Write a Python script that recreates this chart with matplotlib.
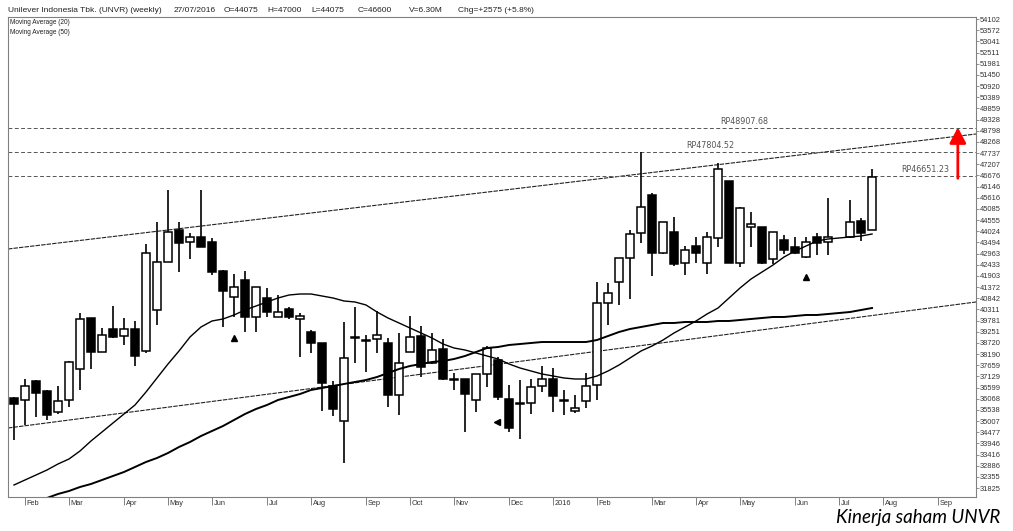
import numpy as np
import pandas as pd
import matplotlib
matplotlib.use('Agg')
import matplotlib.pyplot as plt
import matplotlib.transforms as mtransforms
from matplotlib.patches import Rectangle, FancyArrowPatch

# weekly candles, week start Monday (no candle for the Lebaran week 2016-07-04)
weeks = pd.date_range('2015-01-26', '2016-07-25', freq='W-MON')
weeks = weeks[weeks != pd.Timestamp('2016-07-04')]

opens = [36119, 36008, 36926, 36451, 35424, 36008, 37480, 39887, 38302, 39380,
         39062, 39380, 38350, 40282, 42576, 44082, 43526, 43764, 43512, 42134,
         40914, 41707, 39964, 40838, 39964, 40315, 39841, 39251, 38700, 36688,
         35026, 38985, 38810, 38891, 38700, 36246, 38302, 39062, 37750, 38430,
         36991, 36991, 36008, 37243, 37908, 36056, 35852, 35880, 36673, 36991,
         35975, 35486, 35975, 36720, 40600, 41627, 42738, 43925, 45744, 42975,
         44001, 42529, 43322, 42529, 43688, 46423, 42529, 44238, 44209, 42690,
         43607, 43289, 42785, 43764, 43526, 43735, 44523, 44075]
highs = [36150, 37006, 36958, 36483, 36673, 37850, 40124, 39900, 39413, 40487,
         39917, 39774, 43417, 44476, 45981, 44447, 43925, 45981, 43688, 42182,
         41978, 42149, 41380, 41313, 40995, 40410, 40124, 39333, 38720, 36911,
         39727, 40410, 39095, 40249, 38938, 39204, 39997, 39537, 39204, 38891,
         37276, 37000, 37240, 38587, 38036, 36720, 36958, 36991, 37623, 37513,
         36483, 36246, 37304, 41627, 41579, 42760, 44082, 47804, 45853, 44460,
         44713, 43322, 43764, 44001, 47278, 46430, 45150, 44951, 44220, 44010,
         43844, 43764, 43764, 43954, 45587, 45506, 44637, 47000]
lows = [34109, 34821, 35201, 35058, 35350, 35690, 36483, 37465, 38280, 38960,
        38620, 37637, 38255, 39570, 42560, 42101, 42690, 43270, 41944, 39489,
        39964, 39251, 39251, 39935, 39950, 39841, 38065, 38226, 35501, 35249,
        33002, 37750, 37353, 38255, 35690, 35296, 38290, 37115, 37740, 36960,
        36483, 34502, 35454, 36641, 36008, 34502, 34141, 35343, 36403, 35454,
        35296, 35376, 35613, 36008, 39570, 40520, 40790, 43450, 41897, 42960,
        42372, 41944, 42529, 41992, 43260, 42520, 42339, 43260, 42490, 42467,
        42942, 42960, 42775, 42894, 42894, 43720, 43574, 44075]
closes = [35818, 36673, 36326, 35296, 35975, 37827, 39855, 38273, 39095, 38985,
          39380, 38098, 43004, 42576, 44001, 43479, 43735, 43289, 42101, 41199,
          41389, 39964, 41360, 40202, 40202, 39964, 39998, 38700, 36801, 35566,
          37987, 38960, 38790, 39095, 36246, 37780, 39014, 37590, 38383, 36991,
          36970, 36293, 37229, 38492, 36166, 34664, 35830, 36641, 36991, 36198,
          35960, 35613, 36673, 40600, 41075, 42738, 43877, 45188, 42975, 44447,
          42467, 43132, 42975, 43764, 46964, 42529, 45141, 44367, 42500, 44001,
          43132, 42975, 43527, 43479, 43735, 44476, 43954, 46600]

ma20 = [31971, 32209, 32446, 32684, 32969, 33206, 33586, 34061, 34488, 34916,
        35343, 35771, 36388, 37053, 37718, 38335, 39000, 39475, 39760, 39855,
        40045, 40282, 40472, 40662, 40852, 40994, 41042, 41042, 40947, 40852,
        40710, 40662, 40520, 40187, 39902, 39665, 39427, 39190, 38952, 38667,
        38477, 38382, 38240, 38098, 37955, 37718, 37528, 37385, 37243, 37148,
        37053, 37005, 37005, 37148, 37385, 37670, 38003, 38335, 38572, 38857,
        39190, 39475, 39760, 40092, 40377, 40852, 41327, 41754, 42087, 42419,
        42799, 43084, 43321, 43559, 43654, 43749, 43796, 43891]
ma50 = [30784, 30974, 31164, 31354, 31544, 31686, 31876, 32019, 32209, 32399,
        32589, 32826, 33064, 33254, 33491, 33776, 34013, 34298, 34536, 34773,
        35058, 35343, 35581, 35771, 36008, 36150, 36293, 36483, 36578, 36673,
        36768, 36863, 36958, 37100, 37290, 37480, 37623, 37718, 37813, 37860,
        37955, 38098, 38288, 38477, 38525, 38620, 38667, 38715, 38762, 38762,
        38762, 38762, 38762, 38857, 39047, 39237, 39380, 39475, 39570, 39665,
        39665, 39712, 39712, 39712, 39760, 39760, 39807, 39855, 39902, 39950,
        39950, 39997, 40045, 40045, 40092, 40187, 40282, 40377]

# channel lines: price at left and right edge of the chart
upper_channel = [43179, 48640]
lower_channel = [34678, 40662]

levels = [48907.68, 47804.52, 46651.23]
level_labels = ['RP48907.68', 'RP47804.52', 'RP46651.23']
level_label_x = [64.2, 61.1, 80.7]

yticks = [54102, 53572, 53041, 52511, 51981, 51450, 50920, 50389, 49859, 49328,
          48798, 48268, 47737, 47207, 46676, 46146, 45616, 45085, 44555, 44024,
          43494, 42963, 42433, 41903, 41372, 40842, 40311, 39781, 39251, 38720,
          38190, 37659, 37129, 36599, 36068, 35538, 35007, 34477, 33946, 33416,
          32886, 32355, 31825]

header = ['Unilever Indonesia Tbk. (UNVR) (weekly)', '27/07/2016', 'O=44075',
          'H=47000', 'L=44075', 'C=46600', 'V=6.30M', 'Chg=+2575 (+5.8%)']
header_x = [8, 174, 224, 267, 311, 358, 409, 458]

alert_weeks = ['2015-06-15', '2016-06-13']
alert_prices = [38967, 41864]

x = np.array((weeks - weeks[0]).days / 7.0)

fig = plt.figure(figsize=(10.13, 5.31), dpi=100)
ax = fig.add_axes([8 / 1013, 1 - 497 / 531, 968 / 1013, 480 / 531])
xmin, xmax = -0.545, 87.45
ax.set_xlim(xmin, xmax)
ax.set_ylim(31401, 54197)

# candles
w = 0.7
for xi, o, h, l, c in zip(x, opens, highs, lows, closes):
    ax.vlines(xi, l, h, color='black', lw=1.2, zorder=2)
    bottom = min(o, c)
    height = max(abs(c - o), 45)
    face = 'black' if c < o else 'white'
    ax.add_patch(Rectangle((xi - w / 2, bottom), w, height, facecolor=face,
                           edgecolor='black', lw=1.1, zorder=3))

ax.plot(x, ma20, color='black', lw=1.0, zorder=4)
ax.plot(x, ma50, color='black', lw=1.4, zorder=4)

ax.plot([xmin, xmax], upper_channel, color='#222222', lw=0.8, ls=(0, (4, 1)), zorder=1)
ax.plot([xmin, xmax], lower_channel, color='#222222', lw=0.8, ls=(0, (4, 1)), zorder=1)

for lv, lab, lx in zip(levels, level_labels, level_label_x):
    ax.axhline(lv, color='#555555', lw=0.7, ls=(0, (4, 2.5)), zorder=1)
    ax.annotate(lab, (lx, lv), xytext=(0, 1.5), textcoords='offset points',
                fontsize=5.8, color='#555555', va='bottom', ha='left',
                family='DejaVu Sans')

ax_idx = [(pd.Timestamp(d) - weeks[0]).days / 7.0 for d in alert_weeks]
ax.plot(ax_idx, alert_prices, ls='none', marker='^', ms=5, color='black', zorder=5)
ax.plot([43.9], [34977], ls='none', marker='<', ms=4, color='black', zorder=5)

# red target arrow
arr = FancyArrowPatch((85.8, 46537), (85.8, 48958),
                      arrowstyle='-|>,head_length=9.5,head_width=5',
                      mutation_scale=1, color='red', lw=2.0,
                      shrinkA=0, shrinkB=0, zorder=6)
ax.add_patch(arr)

# axes styling
for s in ax.spines.values():
    s.set_color('#808080')
    s.set_linewidth(0.8)
ax.yaxis.tick_right()
ax.set_yticks(yticks)
ax.set_yticklabels([str(v) for v in yticks], fontsize=5.4, color='#333333',
                   family='Liberation Sans')
ax.tick_params(axis='y', length=2, width=0.6, color='#808080', pad=1)

# month ticks at first week of each month
all_weeks = pd.date_range('2015-01-26', '2016-10-31', freq='W-MON')
tick_pos, tick_lab = [], []
for wk in all_weeks:
    if wk.day <= 7:
        p = (wk - weeks[0]).days / 7.0
        if xmin < p < xmax:
            tick_pos.append(p)
            tick_lab.append(str(wk.year) if wk.month == 1 else wk.strftime('%b'))
ax.set_xticks(tick_pos)
ax.set_xticklabels([])
ax.tick_params(axis='x', direction='out', length=6, width=0.7, color='#808080')
trans = mtransforms.blended_transform_factory(ax.transData, ax.transAxes)
for p, lab in zip(tick_pos, tick_lab):
    ax.text(p + 0.15, -0.0135, lab, transform=trans, fontsize=5.3, color='#333333',
            ha='left', va='center', family='Liberation Sans')

# header and legend texts
for t, hx in zip(header, header_x):
    fig.text(hx / 1013, 1 - 11 / 531, t, fontsize=6, color='#222222',
             va='center', ha='left', family='Liberation Sans')
fig.text(10 / 1013, 1 - 23 / 531, 'Moving Average (20)', fontsize=4.7, color='#222222',
         va='center', family='Liberation Sans')
fig.text(10 / 1013, 1 - 32 / 531, 'Moving Average (50)', fontsize=4.7, color='#222222',
         va='center', family='Liberation Sans')

fig.text(1000 / 1013, 1 - 517 / 531, 'Kinerja saham UNVR', fontsize=13.5,
         style='italic', ha='right', va='center', family='Lato', color='black')

fig.savefig('out.png', dpi=100)
